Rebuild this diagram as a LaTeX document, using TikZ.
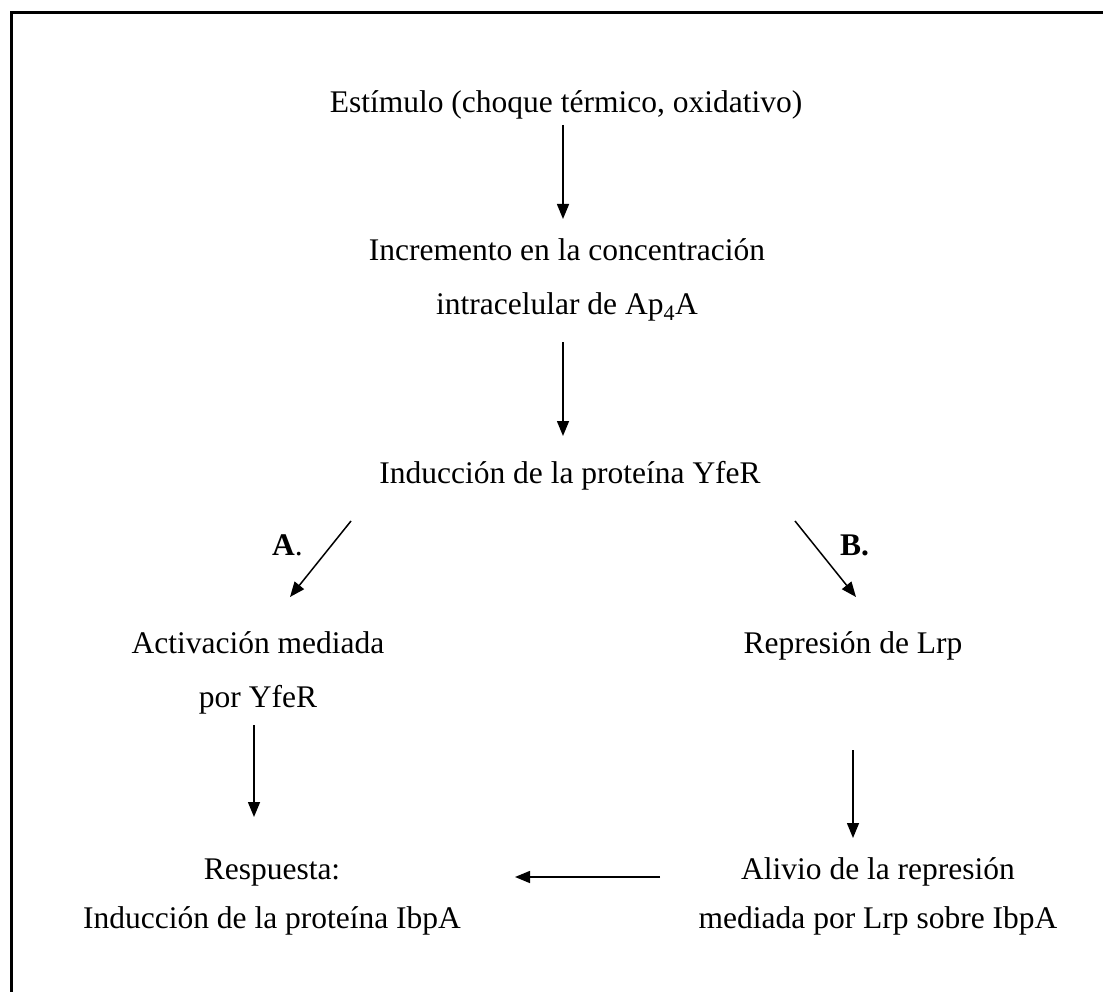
\documentclass[tikz,border=0pt]{standalone}
\usepackage{fontspec}
\setmainfont{Liberation Serif}
\usetikzlibrary{arrows.meta}
\begin{document}
\begin{tikzpicture}[x=1pt,y=-1pt,
  txt/.style={inner sep=0pt, anchor=base, font=\fontsize{31.5}{36}\selectfont, text height=22pt, text depth=7pt},
  arr/.style={line width=1.5pt, -{Triangle[length=15pt,width=12pt]}}]
\useasboundingbox (0,0) rectangle (1103,992);
\draw[line width=3pt] (11,992) -- (11,13) -- (1103,13);
\node[txt] (e) at (566,113) {Estímulo (choque térmico, oxidativo)};
\node[txt] (i1) at (567,261) {Incremento en la concentración};
\node[txt] (i2) at (567,315) {intracelular de Ap\textsubscript{4}A};
\node[txt] (y) at (570,483) {Inducción de la proteína YfeR};
\node[txt] (a1) at (258,653) {Activación mediada};
\node[txt] (a2) at (258,707) {por YfeR};
\node[txt] (r) at (853,653) {Represión de Lrp};
\node[txt] (resp) at (272,879) {Respuesta:};
\node[txt] (ind) at (272,928) {Inducción de la proteína IbpA};
\node[txt] (al1) at (878,879) {Alivio de la represión};
\node[txt] (al2) at (878,928) {mediada por Lrp sobre IbpA};
\node[txt, anchor=base west] (la) at (272,555) {\textbf{A}.};
\node[txt, anchor=base west] (lb) at (840,555) {\textbf{B.}};
\coordinate (v1s) at (563,125);
\coordinate (v1e) at (563,219);
\coordinate (v2s) at (563,342);
\coordinate (v2e) at (563,436);
\coordinate (as) at (351,521);
\coordinate (ae) at (290,597);
\coordinate (bs) at (795,521);
\coordinate (be) at (856,597);
\coordinate (ls) at (254,725);
\coordinate (le) at (254,817);
\coordinate (rs) at (853,750);
\coordinate (re) at (853,838);
\coordinate (hs) at (660,877);
\coordinate (he) at (515,877);
\draw[arr] (v1s) -- (v1e);
\draw[arr] (v2s) -- (v2e);
\draw[arr] (as) -- (ae);
\draw[arr] (bs) -- (be);
\draw[arr] (ls) -- (le);
\draw[arr] (rs) -- (re);
\draw[arr] (hs) -- (he);
\end{tikzpicture}
\end{document}
